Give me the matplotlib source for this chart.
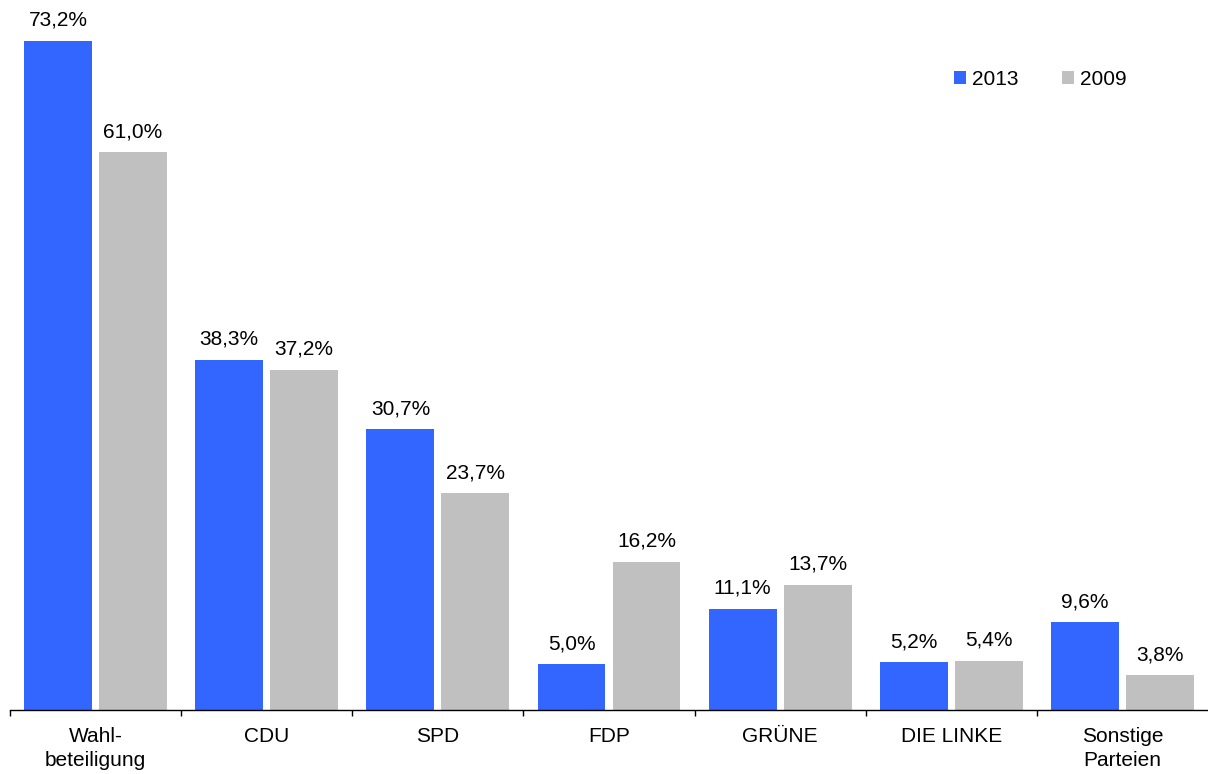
import numpy as np
import matplotlib.pyplot as plt

plt.rcParams['font.family'] = ['Liberation Sans', 'DejaVu Sans']

categories = ["Wahl-\nbeteiligung", "CDU", "SPD", "FDP", "GRÜNE", "DIE LINKE", "Sonstige\nParteien"]
vals_2013 = [73.2, 38.3, 30.7, 5.0, 11.1, 5.2, 9.6]
vals_2009 = [61.0, 37.2, 23.7, 16.2, 13.7, 5.4, 3.8]
series_names = ["2013", "2009"]
colors = ["#3366FF", "#C0C0C0"]


def fmt(v):
    return f"{v:.1f}".replace(".", ",") + "%"


fig = plt.figure(figsize=(12.08, 7.74), dpi=100)
ax = fig.add_axes([10 / 1208, 64 / 774, 1 - 10 / 1208, 1 - 64 / 774])

x = np.arange(len(categories))
w = 0.397
off = w / 2 + 0.0205

for vals, dx, col, name in [(vals_2013, -off, colors[0], series_names[0]),
                            (vals_2009, off, colors[1], series_names[1])]:
    bars = ax.bar(x + dx, vals, width=w, color=col, label=name)
    for b, v in zip(bars, vals):
        ax.annotate(fmt(v), (b.get_x() + b.get_width() / 2, b.get_height()),
                    xytext=(0, 8), textcoords="offset points",
                    ha="center", va="bottom", fontsize=15)

ax.set_xlim(-0.5, len(categories) - 0.5)
ax.set_ylim(0, 710 / 9.14)

# group separators as major ticks, names as minor ticks
ax.set_xticks(np.arange(len(categories)) - 0.5)
ax.set_xticklabels([])
ax.set_xticks(x, minor=True)
ax.set_xticklabels(categories, minor=True, fontsize=15, linespacing=1.35)
ax.tick_params(axis="x", which="major", direction="out", length=4, width=1)
ax.tick_params(axis="x", which="minor", length=0, pad=12)
ax.set_yticks([])
for s in ["left", "right", "top"]:
    ax.spines[s].set_visible(False)
ax.spines["bottom"].set_linewidth(1)

ax.legend(loc="upper right", bbox_to_anchor=(0.948, 0.928), frameon=False,
          ncol=2, fontsize=15, handlelength=0.6, handleheight=0.6,
          handletextpad=0.3, columnspacing=2.05)

fig.savefig("out.png", dpi=100)
